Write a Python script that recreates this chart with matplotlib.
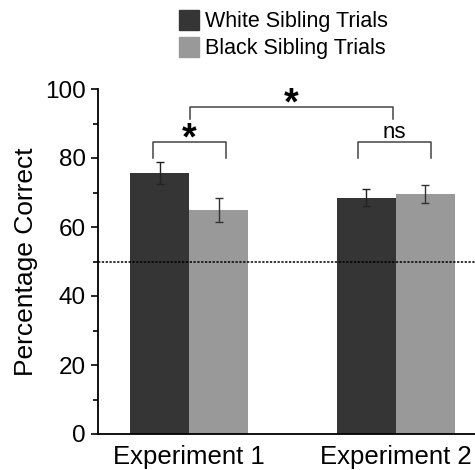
import matplotlib.pyplot as plt
import numpy as np
from matplotlib.patches import Patch

plt.rcParams["font.family"] = ["Liberation Sans", "DejaVu Sans"]

experiments = ["Experiment 1", "Experiment 2"]
series = ["White Sibling Trials", "Black Sibling Trials"]
white_means = [75.7, 68.5]
white_err = [3.2, 2.5]
black_means = [64.9, 69.6]
black_err = [3.5, 2.5]
chance = 50
colors = ["#353535", "#999999"]

fig = plt.figure(figsize=(4.75, 4.7), dpi=100)
ax = fig.add_axes([98 / 475, 1 - 434 / 470, 1 - 98 / 475, (434 - 89) / 470])

x = np.arange(len(experiments))
width = 0.285
ax.bar(x - width / 2, white_means, width, color=colors[0], edgecolor="none")
ax.bar(x + width / 2, black_means, width, color=colors[1], edgecolor="none")
ax.errorbar(x - width / 2, white_means, yerr=white_err, fmt="none",
            ecolor="#222222", elinewidth=1.0, capsize=2.6, capthick=1.0)
ax.errorbar(x + width / 2, black_means, yerr=black_err, fmt="none",
            ecolor="#333333", elinewidth=1.0, capsize=2.6, capthick=1.0)

ax.axhline(chance, color="black", linestyle=(0, (1.5, 1)), linewidth=1.1)


def bracket(x0, x1, y_low, y_high, label, size, dy, bold):
    ax.plot([x0, x0, x1, x1], [y_low, y_high, y_high, y_low],
            color="#444444", linewidth=1.1, clip_on=False)
    ax.text((x0 + x1) / 2, y_high + dy, label, ha="center", va="bottom",
            fontsize=size, fontweight="bold" if bold else "normal",
            clip_on=False)


bracket(-0.174, 0.178, 80, 84.7, "*", 27, -4.6, True)
bracket(0.817, 1.170, 80, 84.7, "ns", 16, -0.3, False)
bracket(0.005, 0.986, 91.3, 94.9, "*", 27, -4.6, True)

ax.set_xlim(-0.44, 1.382)
ax.set_ylim(0, 100)
ax.set_xticks(x)
ax.set_xticklabels(experiments, fontsize=18.5)
ax.tick_params(axis="x", length=0, pad=8)
ax.set_yticks(np.arange(0, 101, 20))
ax.set_yticks(np.arange(10, 100, 20), minor=True)
ax.tick_params(axis="y", which="major", length=5, width=1.2, labelsize=17.5, pad=4)
ax.tick_params(axis="y", which="minor", length=3.5, width=1.2)
ax.set_ylabel("Percentage Correct", fontsize=19, labelpad=5)

for side in ("top", "right"):
    ax.spines[side].set_visible(False)
for side in ("left", "bottom"):
    ax.spines[side].set_linewidth(1.3)

handles = [Patch(color=c, label=s) for c, s in zip(colors, series)]
fig.legend(handles=handles, loc="upper left",
           bbox_to_anchor=(179 / 475, 1 - 10 / 470), frameon=False,
           fontsize=15.5, handlelength=0.95, handleheight=1.05,
           handletextpad=0.25, labelspacing=0.2, borderpad=0,
           borderaxespad=0)

fig.savefig("out.png", dpi=100)
